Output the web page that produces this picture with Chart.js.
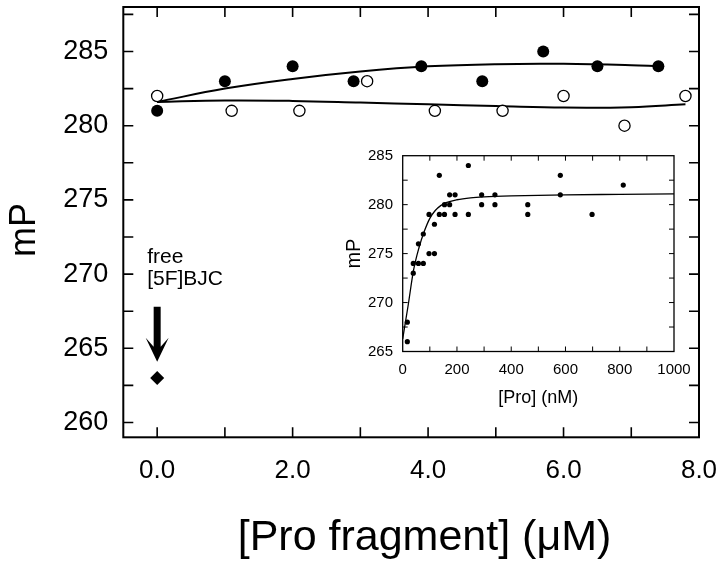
<!DOCTYPE html>
<html>
<head>
<meta charset="utf-8">
<script src="https://cdn.jsdelivr.net/npm/chart.js@4.4.1/dist/chart.umd.min.js"></script>
<style>
  html, body { margin: 0; padding: 0; background: #fff; }
  #wrap { position: relative; width: 720px; height: 562px; }
  #main { position: absolute; left: 0; top: 0; }
  #inset { position: absolute; left: 330px; top: 140px; }
</style>
</head>
<body>
<div id="wrap">
  <canvas id="main" width="720" height="562"></canvas>
  <canvas id="inset" width="370" height="270"></canvas>
</div>
<script>
// main plot: [Pro fragment] (uM) vs mP
const mainFilledX = [0, 1.0, 2.0, 2.9, 3.9, 4.8, 5.7, 6.5, 7.4];
const mainFilledY = [281, 283, 284, 283, 284, 283, 285, 284, 284];
const mainOpenX = [0, 1.1, 2.1, 3.1, 4.1, 5.1, 6.0, 6.9, 7.8];
const mainOpenY = [282, 281, 281, 283, 281, 281, 282, 280, 282];
const freeX = [0];
const freeY = [263];
const fitUpperX = [0, 1, 2, 3, 4, 5, 6, 7, 7.4];
const fitUpperY = [281.6, 282.5, 283.15, 283.65, 284.0, 284.15, 284.17, 284.08, 284.0];
const fitLowerX = [0, 1, 2, 3, 4, 5, 6, 7, 7.8];
const fitLowerY = [281.6, 281.7, 281.67, 281.56, 281.44, 281.33, 281.22, 281.25, 281.45];
const mainXTicks = [0, 2, 4, 6, 8];
const mainXMinor = [0, 1, 2, 3, 4, 5, 6, 7];
const mainYTicks = [260, 265, 270, 275, 280, 285];
const mainYMinor = [260, 262.5, 265, 267.5, 270, 272.5, 275, 277.5, 280, 282.5, 285, 287.5];
const arrowX = 0;
const arrowFromY = 267.8;
const arrowToY = 264.1;

// inset: [Pro] (nM) vs mP
const insetX = [17, 17, 39, 39, 58, 58, 76, 76, 97, 97, 117, 117, 135, 135, 154, 154,
                173, 173, 193, 193, 242, 242, 291, 291, 340, 340, 461, 461, 581, 581, 698, 813];
const insetY = [266, 268, 273, 274, 276, 274, 277, 274, 279, 275, 278, 275, 283, 279, 280, 279,
                281, 280, 281, 279, 284, 279, 281, 280, 281, 280, 280, 279, 283, 281, 279, 282];
const insetFitX = [0, 20, 40, 60, 80, 100, 120, 140, 160, 200, 250, 300, 400, 600, 800, 1000];
const insetFitY = [266.3, 269.7, 273.3, 275.6, 277.3, 278.6, 279.4, 279.9, 280.2, 280.5, 280.7, 280.8, 280.9, 281.0, 281.05, 281.1];
const insetXTicks = [0, 200, 400, 600, 800, 1000];
const insetXMinor = [100, 200, 300, 400, 500, 600, 700, 800, 900];
const insetYTicks = [265, 270, 275, 280, 285];
const insetYMinor = [267.5, 270, 272.5, 275, 277.5, 280, 282.5];

const FONT = '"Liberation Sans", Arial, Helvetica, sans-serif';
Chart.defaults.font.family = FONT;
Chart.defaults.color = '#000';

const pts = (xs, ys) => xs.map((x, i) => ({ x: x, y: ys[i] }));

// box round the plot with ticks pointing inward
function framePlugin(xMinor, yMinor, tickLen, frameW, tickW) {
  return {
    id: 'frame',
    afterDraw(chart) {
      const { ctx, chartArea: a, scales: { x, y } } = chart;
      ctx.save();
      ctx.strokeStyle = '#000';
      ctx.lineWidth = tickW;
      ctx.beginPath();
      xMinor.forEach(v => {
        const px = x.getPixelForValue(v);
        ctx.moveTo(px, a.bottom); ctx.lineTo(px, a.bottom - tickLen);
        ctx.moveTo(px, a.top); ctx.lineTo(px, a.top + tickLen);
      });
      yMinor.forEach(v => {
        const py = y.getPixelForValue(v);
        ctx.moveTo(a.left, py); ctx.lineTo(a.left + tickLen, py);
        ctx.moveTo(a.right, py); ctx.lineTo(a.right - tickLen, py);
      });
      ctx.stroke();
      ctx.lineWidth = frameW;
      ctx.strokeRect(a.left, a.top, a.right - a.left, a.bottom - a.top);
      ctx.restore();
    }
  };
}

// arrow, "free [5F]BJC" note and the big axis titles
const annotPlugin = {
  id: 'annot',
  afterDraw(chart) {
    const { ctx, scales: { x, y } } = chart;
    const ax = x.getPixelForValue(arrowX);
    const top = y.getPixelForValue(arrowFromY);
    const tip = y.getPixelForValue(arrowToY);
    ctx.save();
    ctx.fillStyle = '#000';
    ctx.beginPath();
    ctx.moveTo(ax - 3.5, top);
    ctx.lineTo(ax + 3.5, top);
    ctx.lineTo(ax + 3.5, tip - 15);
    ctx.lineTo(ax + 11.5, tip - 24);
    ctx.lineTo(ax, tip);
    ctx.lineTo(ax - 11.5, tip - 24);
    ctx.lineTo(ax - 3.5, tip - 15);
    ctx.closePath();
    ctx.fill();

    ctx.font = '21px ' + FONT;
    ctx.textAlign = 'left';
    ctx.textBaseline = 'alphabetic';
    ctx.fillText('free', ax - 10, top - 44);
    ctx.fillText('[5F]BJC', ax - 10, top - 22);

    ctx.font = '43px ' + FONT;
    ctx.textAlign = 'center';
    ctx.fillText('[Pro fragment] (\u03BCM)', 424.5, 550);

    ctx.font = '36px ' + FONT;
    ctx.translate(35, 230);
    ctx.rotate(-Math.PI / 2);
    ctx.fillText('mP', 0, 0);
    ctx.restore();
  }
};

new Chart(document.getElementById('main'), {
  type: 'scatter',
  data: {
    datasets: [
      { label: 'free', data: pts(freeX, freeY), pointStyle: 'rectRot', pointRadius: 7,
        backgroundColor: '#000', borderColor: '#000', borderWidth: 0 },
      { label: 'filled', data: pts(mainFilledX, mainFilledY), pointRadius: 6,
        backgroundColor: '#000', borderColor: '#000', borderWidth: 0 },
      { label: 'open', data: pts(mainOpenX, mainOpenY), pointRadius: 5.6,
        backgroundColor: '#fff', borderColor: '#000', borderWidth: 1.3 },
      { label: 'fit filled', type: 'line', data: pts(fitUpperX, fitUpperY), borderColor: '#000',
        borderWidth: 2, pointRadius: 0, tension: 0.4, fill: false },
      { label: 'fit open', type: 'line', data: pts(fitLowerX, fitLowerY), borderColor: '#000',
        borderWidth: 2, pointRadius: 0, tension: 0.4, fill: false }
    ]
  },
  options: {
    responsive: false,
    animation: false,
    devicePixelRatio: 1,
    layout: { padding: { left: 0, top: 3.3, right: 21, bottom: 0 } },
    plugins: { legend: { display: false }, tooltip: { enabled: false } },
    scales: {
      x: {
        type: 'linear', min: -0.5, max: 8,
        grid: { display: false, drawTicks: false },
        border: { display: false },
        afterBuildTicks: s => { s.ticks = mainXTicks.map(v => ({ value: v })); },
        afterFit: s => { s.height = 124.7; s.paddingLeft = 0; s.paddingRight = 0; },
        ticks: { font: { size: 26 }, color: '#000', padding: 18, maxRotation: 0, autoSkip: false,
                 callback: v => Number(v).toFixed(1) }
      },
      y: {
        type: 'linear', min: 259, max: 288,
        grid: { display: false, drawTicks: false },
        border: { display: false },
        afterBuildTicks: s => { s.ticks = mainYTicks.map(v => ({ value: v })); },
        afterFit: s => { s.width = 123.3; s.paddingTop = 0; s.paddingBottom = 0; },
        ticks: { font: { size: 27 }, color: '#000', padding: 15, autoSkip: false,
                 callback: v => String(v) }
      }
    }
  },
  plugins: [framePlugin(mainXMinor, mainYMinor, 10, 2, 1.6), annotPlugin]
});

new Chart(document.getElementById('inset'), {
  type: 'scatter',
  data: {
    datasets: [
      { label: 'data', data: pts(insetX, insetY), pointRadius: 2.6,
        backgroundColor: '#000', borderColor: '#000', borderWidth: 0 },
      { label: 'fit', type: 'line', data: pts(insetFitX, insetFitY), borderColor: '#000',
        borderWidth: 1.3, pointRadius: 0, tension: 0.4, cubicInterpolationMode: 'monotone', fill: false }
    ]
  },
  options: {
    responsive: false,
    animation: false,
    devicePixelRatio: 1,
    layout: { padding: { left: 0, top: 15.7, right: 26, bottom: 0 } },
    plugins: { legend: { display: false }, tooltip: { enabled: false } },
    scales: {
      x: {
        type: 'linear', min: 0, max: 1000,
        grid: { display: false, drawTicks: false },
        border: { display: false },
        afterBuildTicks: s => { s.ticks = insetXTicks.map(v => ({ value: v })); },
        afterFit: s => { s.height = 58.5; s.paddingLeft = 0; s.paddingRight = 0; },
        ticks: { font: { size: 15 }, color: '#000', padding: 9.5, maxRotation: 0, autoSkip: false,
                 callback: v => String(v) },
        title: { display: true, text: '[Pro] (nM)', font: { size: 18 }, color: '#000',
                 padding: { top: 0, bottom: 1.2 } }
      },
      y: {
        type: 'linear', min: 265, max: 285,
        grid: { display: false, drawTicks: false },
        border: { display: false },
        afterBuildTicks: s => { s.ticks = insetYTicks.map(v => ({ value: v })); },
        afterFit: s => { s.width = 72.7; s.paddingTop = 0; s.paddingBottom = 0; },
        ticks: { font: { size: 15 }, color: '#000', padding: 9.7, autoSkip: false,
                 callback: v => String(v) },
        title: { display: true, text: 'mP', font: { size: 20 }, color: '#000',
                 padding: { top: 12, bottom: 0 } }
      }
    }
  },
  plugins: [framePlugin(insetXMinor, insetYMinor, 5, 1.3, 1)]
});
</script>
</body>
</html>
